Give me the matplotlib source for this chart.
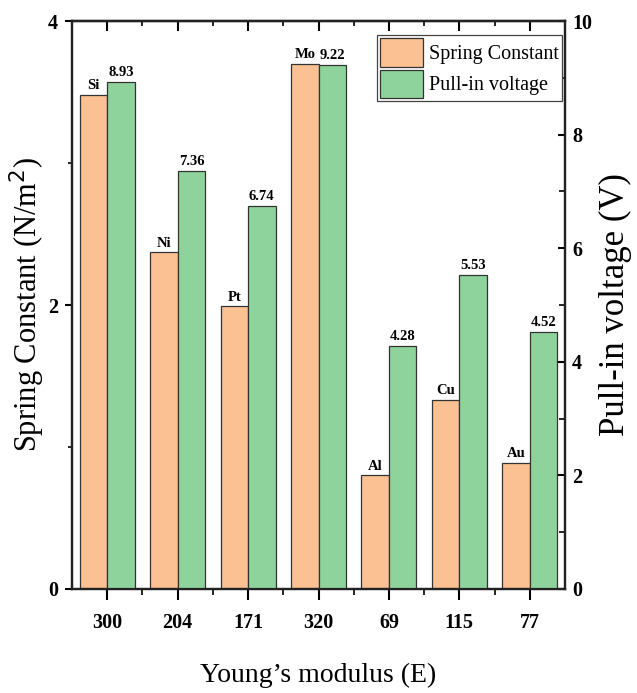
import numpy as np
import matplotlib
matplotlib.use("Agg")
import matplotlib.pyplot as plt
from matplotlib.ticker import MultipleLocator, FixedLocator

# data
youngs_modulus = ["300", "204", "171", "320", "69", "115", "77"]
materials = ["Si", "Ni", "Pt", "Mo", "Al", "Cu", "Au"]
spring_constant = [3.48, 2.37, 1.99, 3.70, 0.80, 1.33, 0.89]
pull_in_voltage = [8.93, 7.36, 6.74, 9.22, 4.28, 5.53, 4.52]

plt.rcParams["font.family"] = ["Liberation Serif", "DejaVu Serif"]

orange = "#FBC192"
green = "#8FD39C"
edge = "#333333"

fig = plt.figure(figsize=(6.37, 6.93), dpi=100)
ax = fig.add_axes([72 / 637, 1 - 589 / 693, (565 - 72) / 637, (589 - 21) / 693])
ax2 = ax.twinx()

x = np.arange(len(youngs_modulus))
w = 0.39

b1 = ax.bar(x - w / 2, spring_constant, w, color=orange, edgecolor=edge, linewidth=0.9,
            label="Spring Constant")
b2 = ax2.bar(x + w / 2, pull_in_voltage, w, color=green, edgecolor=edge, linewidth=0.9,
             label="Pull-in voltage")

for xi, v, name in zip(x, spring_constant, materials):
    ax.text(xi - w / 2, v + 0.02, name, ha="center", va="bottom", fontsize=10.5, fontweight="bold")
for xi, v in zip(x, pull_in_voltage):
    ax2.text(xi + w / 2, v + 0.05, f"{v:.2f}", ha="center", va="bottom", fontsize=10.5, fontweight="bold")

ax.set_xlim(-0.5, len(x) - 0.5)
ax.set_ylim(0, 4)
ax2.set_ylim(0, 10)

ax.set_xticks(x)
ax.set_xticklabels(youngs_modulus, fontsize=14.5, fontweight="bold")
ax.xaxis.set_minor_locator(FixedLocator(x[:-1] + 0.5))
ax.yaxis.set_major_locator(MultipleLocator(2))
ax.yaxis.set_minor_locator(MultipleLocator(1))
ax2.yaxis.set_major_locator(MultipleLocator(2))
ax2.yaxis.set_minor_locator(MultipleLocator(1))
for lab in ax.get_yticklabels() + ax2.get_yticklabels():
    lab.set_fontsize(14.5)
    lab.set_fontweight("bold")

# bottom ticks point out, top ticks point in
ax.tick_params(axis="x", which="major", direction="out", length=8, width=1.5, pad=9)
ax.tick_params(axis="x", which="minor", direction="out", length=4, width=1.2)
top = ax.secondary_xaxis("top")
top.set_xticks(x)
top.xaxis.set_minor_locator(FixedLocator(x[:-1] + 0.5))
top.tick_params(axis="x", which="major", direction="in", length=7, width=1.5, labeltop=False)
top.tick_params(axis="x", which="minor", direction="in", length=3.5, width=1.2)
top.spines["top"].set_linewidth(1.6)

ax.tick_params(axis="y", which="major", direction="out", length=5, width=1.5, pad=5)
ax.tick_params(axis="y", which="minor", direction="out", length=3, width=1.2)
ax2.tick_params(axis="y", which="major", direction="in", length=5, width=1.5, pad=5)
ax2.tick_params(axis="y", which="minor", direction="in", length=4, width=1.2)

for sp in list(ax.spines.values()) + list(ax2.spines.values()):
    sp.set_linewidth(1.6)
    sp.set_color("#222222")

ax.set_xlabel("Young\u2019s modulus (E)", fontsize=20, labelpad=22)
ax.set_ylabel("Spring Constant (N/m$^2$)", fontsize=22, labelpad=1)
ax2.set_ylabel("Pull-in voltage (V)", fontsize=25, labelpad=5)

leg = ax2.legend([b1, b2], ["Spring Constant", "Pull-in voltage"], loc="upper right",
                 bbox_to_anchor=(0.9935, 0.975), fontsize=14.5, fancybox=False,
                 edgecolor="#444444", framealpha=1, handlelength=2.15, handleheight=1.8,
                 borderpad=0.15, labelspacing=0.15, handletextpad=0.3, borderaxespad=0.0)
leg.get_frame().set_linewidth(0.9)

fig.savefig("out.png", dpi=100)
